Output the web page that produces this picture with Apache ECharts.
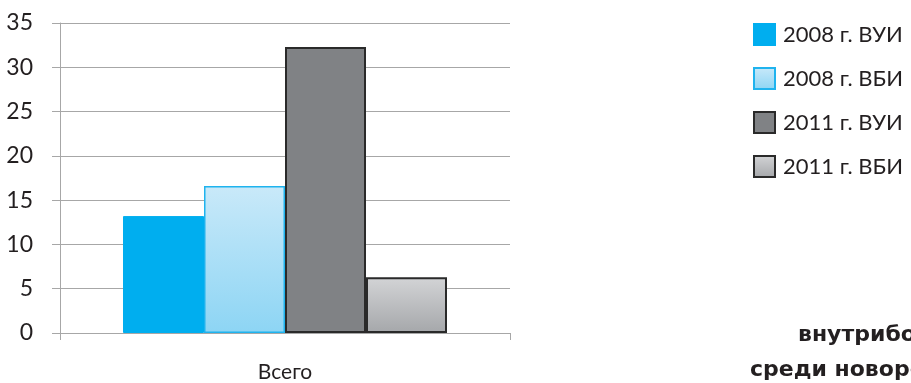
<!DOCTYPE html>
<html>
<head>
<meta charset="utf-8">
<script src="https://cdn.jsdelivr.net/npm/echarts@6/dist/echarts.min.js"></script>
<style>
  html, body { margin: 0; padding: 0; background: #fff; }
  #chart { width: 911px; height: 383px; }
</style>
</head>
<body>
<div id="chart"></div>
<script>
const categories = ['Всего']
const seriesNames = ['2008 г. ВУИ', '2008 г. ВБИ', '2011 г. ВУИ', '2011 г. ВБИ']
const vui2008 = [13.2]
const vbi2008 = [16.6]
const vui2011 = [32.3]
const vbi2011 = [6.3]
const yTicks = [0, 5, 10, 15, 20, 25, 30, 35]

const FONT = 'Lato'

function grad(top, bottom) {
  return {
    type: 'linear', x: 0, y: 0, x2: 0, y2: 1,
    colorStops: [{ offset: 0, color: top }, { offset: 1, color: bottom }]
  }
}

// стили столбцов
const styles = [
  { color: '#00aeef', borderColor: '#00aeef', borderWidth: 1 },
  { color: grad('#c9e9f9', '#8dd5f4'), borderColor: '#1fb3ee', borderWidth: 1.5 },
  { color: '#808285', borderColor: '#2a2a2a', borderWidth: 2 },
  { color: grad('#d3d4d6', '#a5a7aa'), borderColor: '#2a2a2a', borderWidth: 2 }
]

const data = [vui2008, vbi2008, vui2011, vbi2011]

const chart = echarts.init(document.getElementById('chart'))
chart.setOption({
  animation: false,
  grid: { left: 60, right: 401, top: 23, bottom: 49 },
  legend: {
    orient: 'vertical',
    left: 748,
    top: 18,
    icon: 'rect',
    itemWidth: 21,
    itemHeight: 21,
    itemGap: 21,
    textStyle: { fontFamily: FONT, fontSize: 22, color: '#231f20', padding: [0, 0, 0, 3] },
    data: seriesNames
  },
  xAxis: {
    type: 'category',
    data: categories,
    axisLine: { lineStyle: { color: '#a7a7a7', width: 1 } },
    axisTick: { show: true, length: 7, lineStyle: { color: '#a7a7a7' } },
    axisLabel: { fontFamily: FONT, fontSize: 21, color: '#231f20', margin: 29 }
  },
  yAxis: {
    type: 'value',
    min: yTicks[0],
    max: yTicks[yTicks.length - 1],
    interval: 5,
    axisLine: { show: true, lineStyle: { color: '#a7a7a7', width: 1 } },
    axisTick: { show: true, length: 8, lineStyle: { color: '#a7a7a7' } },
    splitLine: { lineStyle: { color: '#a7a7a7', width: 1 } },
    axisLabel: { fontFamily: FONT, fontSize: 23, color: '#231f20', margin: 27 }
  },
  series: seriesNames.map((name, i) => ({
    name: name,
    type: 'bar',
    data: data[i],
    barGap: '0%',
    barCategoryGap: '28%',
    itemStyle: styles[i]
  })),
  graphic: [
    {
      type: 'text', left: 798, top: 324,
      style: { text: 'внутрибольничных', font: 'bold 22px "DejaVu Sans"', fill: '#231f20' }
    },
    {
      type: 'text', left: 750, top: 359,
      style: { text: 'среди новорожденных', font: 'bold 22px "DejaVu Sans"', fill: '#231f20' }
    }
  ]
})
</script>
</body>
</html>
